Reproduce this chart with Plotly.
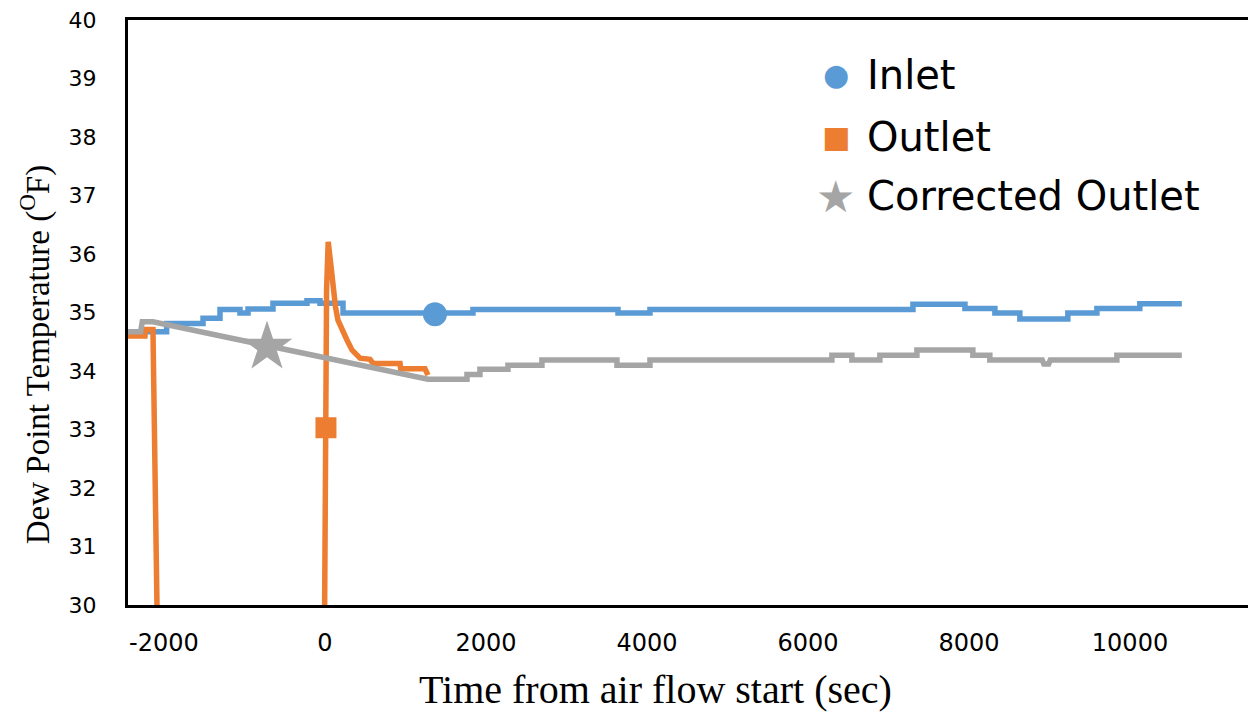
import plotly.graph_objects as go

# ---------------- data ----------------
# Inlet: step series (time of each step start, value)
inlet_t = [-2450, -1967, -1515, -1304, -1056, -956, -646, -224, -62, 224,
           1838, 3640, 4037, 7304, 7950, 8322, 8632, 9228, 9589, 10122, 10644]
inlet_v = [34.67, 34.81, 34.90, 35.05, 34.99, 35.06, 35.16, 35.20, 35.16, 34.99,
           35.05, 34.99, 35.05, 35.14, 35.07, 34.99, 34.89, 34.99, 35.07, 35.15, 35.15]

# Outlet: vertices of the recorded line (goes below the 30 F axis between the two spikes)
outlet_t = [-2450, -2236, -2230, -2137, -2085, -5, 20, 40, 70, 99, 130, 161, 215, 273, 335, 435,
            559, 596, 932, 940, 1242, 1279]
outlet_v = [34.60, 34.60, 34.71, 34.71, 29.80, 29.80, 35.40, 36.21, 35.85, 35.44, 35.10, 34.87,
            34.68, 34.53, 34.36, 34.22, 34.20, 34.13, 34.13, 34.04, 34.04, 33.93]

# Corrected outlet: vertices
corr_t = [-2450, -2290, -2270, -2137, 1279, 1764, 1764, 1925, 1925, 2273, 2273, 2695,
          2695, 3627, 3627, 4037, 4037, 6297, 6297, 6545, 6545, 6893, 6893, 7353,
          7353, 8048, 8048, 8259, 8259, 8910, 8930, 8990, 9010, 9837, 9837, 10644]
corr_v = [34.67, 34.67, 34.84, 34.84, 33.86, 33.86, 33.94, 33.94, 34.03, 34.03, 34.10, 34.10,
          34.19, 34.19, 34.10, 34.10, 34.19, 34.19, 34.27, 34.27, 34.19, 34.19, 34.27, 34.27,
          34.36, 34.36, 34.27, 34.27, 34.19, 34.19, 34.12, 34.12, 34.19, 34.19, 34.27, 34.27]

# single marker points shown on each series
inlet_mark = (1366, 34.97)
outlet_mark = (12, 33.03)
corr_mark = (-720, 34.41)

series_names = ["Inlet", "Outlet", "Corrected Outlet"]
x_tickvals = [-2000, 0, 2000, 4000, 6000, 8000, 10000]
x_ticktext = ["-2000", "0", "2000", "4000", "6000", "8000", "10000"]
y_tickvals = [30, 31, 32, 33, 34, 35, 36, 37, 38, 39, 40]

BLUE = "#5B9BD5"
ORANGE = "#ED7D31"
GREY = "#A5A5A5"
LW = 5.5

fig = go.Figure()

fig.add_trace(go.Scatter(x=inlet_t, y=inlet_v, mode="lines", line=dict(color=BLUE, width=LW, shape="hv"),
                         showlegend=False, hoverinfo="skip"))
fig.add_trace(go.Scatter(x=outlet_t, y=outlet_v, mode="lines", line=dict(color=ORANGE, width=LW),
                         showlegend=False, hoverinfo="skip"))
fig.add_trace(go.Scatter(x=corr_t, y=corr_v, mode="lines", line=dict(color=GREY, width=LW),
                         showlegend=False, hoverinfo="skip"))

fig.add_trace(go.Scatter(x=[inlet_mark[0]], y=[inlet_mark[1]], mode="markers",
                         marker=dict(symbol="circle", size=24, color=BLUE), name=series_names[0],
                         showlegend=False))
fig.add_trace(go.Scatter(x=[outlet_mark[0]], y=[outlet_mark[1]], mode="markers",
                         marker=dict(symbol="square", size=21, color=ORANGE), name=series_names[1],
                         showlegend=False))
fig.add_trace(go.Scatter(x=[corr_mark[0]], y=[corr_mark[1]], mode="markers",
                         marker=dict(symbol="star", size=38, color=GREY), name=series_names[2],
                         showlegend=False))

# legend drawn as text: symbol glyph + series name
legend_rows_y = [0.906, 0.800, 0.699]
legend_glyphs = [("\u25CF", BLUE, 30), ("\u25A0", ORANGE, 30), ("\u2605", GREY, 44)]
annotations = []
for (glyph, col, gsize), name, yy in zip(legend_glyphs, series_names, legend_rows_y):
    annotations.append(dict(text=glyph, xref="paper", yref="paper", x=0.6321, y=yy,
                            xanchor="center", yanchor="middle", showarrow=False,
                            font=dict(family="DejaVu Sans", size=gsize, color=col)))
    annotations.append(dict(text=name, xref="paper", yref="paper", x=0.658, y=yy,
                            xanchor="left", yanchor="middle", showarrow=False,
                            font=dict(family="DejaVu Sans", size=40, color="black")))

annotations += [
    dict(text="Time from air flow start (sec)", xref="paper", yref="paper",
         x=0.4714, y=-0.145, xanchor="center", yanchor="middle", showarrow=False,
         font=dict(family="Liberation Serif", size=40, color="black")),
    dict(text="Dew Point Temperature (<sup>O</sup>F)", xref="paper", yref="paper",
         x=-0.083, y=0.427, xanchor="center", yanchor="middle", showarrow=False,
         textangle=-90,
         font=dict(family="Liberation Serif", size=33, color="black")),
]

fig.update_layout(
    width=1248, height=717,
    margin=dict(l=128, r=0, t=20, b=112),
    paper_bgcolor="white", plot_bgcolor="white",
    showlegend=False,
    xaxis=dict(range=[-2447, 11466], tickvals=x_tickvals, ticktext=x_ticktext,
               showgrid=False, zeroline=False, showline=True, linecolor="black", linewidth=3,
               mirror=True, ticks="", ticklabelstandoff=14,
               tickfont=dict(family="DejaVu Sans", size=24, color="black")),
    yaxis=dict(range=[30, 40], tickvals=y_tickvals,
               showgrid=False, zeroline=False, showline=True, linecolor="black", linewidth=3,
               ticks="", ticklabelstandoff=24,
               tickfont=dict(family="DejaVu Sans", size=22, color="black")),
    annotations=annotations,
)

fig.write_html("out.html")
